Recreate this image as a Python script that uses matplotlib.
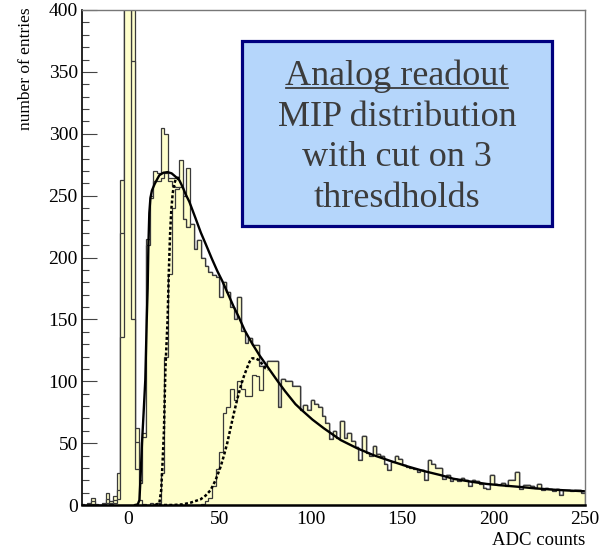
import numpy as np
import matplotlib.pyplot as plt
from matplotlib.patches import Rectangle
from matplotlib.lines import Line2D

plt.rcParams['font.family'] = ['Liberation Serif', 'DejaVu Serif']

# binning: 2 ADC counts per bin
bin_lo, bin_hi, bin_w = -26, 250, 2

# tail 80..250, same in all histograms
tail = [116, 79, 102, 100, 100, 96, 96, 77, 81, 77,
        85, 82, 79, 72, 66, 53, 60, 54, 68, 54,
        58, 52, 47, 36, 56, 42, 40, 48, 41, 40,
        33, 28, 35, 40, 37, 32, 31, 30, 29, 27,
        28, 20, 36, 33, 30, 30, 21, 24, 19, 21,
        19, 22, 20, 15, 20, 19, 17, 14, 13, 24,
        17, 16, 18, 15, 20, 20, 27, 13, 16, 16,
        15, 14, 17, 12, 14, 13, 11, 13, 8, 12,
        12, 11, 12, 12, 10]

# common part 34..80 of the no-cut / cut1 / cut2 histograms
mid = [227, 207, 214, 200, 193, 188, 186, 184, 168, 180, 172, 160,
       150, 168, 141, 131, 135, 129, 129, 112, 112, 116, 116]

# -26..34
all_head = [1, 0, 2, 6, 1, 0, 2, 10, 3, 7, 26,
            263, 2500, 2200, 900,
            62, 20, 58, 215, 250, 270,
            268, 305, 300, 264, 264, 264, 279, 250, 272]
cut1_head = [0, 0, 1, 3, 0, 0, 1, 5, 2, 4, 12,
             220, 1500, 1200, 359,
             51, 18, 55, 210, 248, 262,
             262, 264, 268, 262, 258, 257, 257, 231, 225]
cut2_head = [0, 0, 0, 1, 0, 0, 0, 2, 1, 2, 5,
             136, 800, 600, 150,
             29, 4, 1, 0, 2, 1,
             2, 26, 120, 187, 240, 255, 257, 231, 225]
# -26..80
cut3_head = [0] * 30 + [0, 0, 0, 1, 3, 6, 15, 29, 43, 74, 79, 94,
                        85, 100, 94, 88, 88, 105, 104, 93, 112, 116, 116]

# fit curves
fit_x = [4, 5.5, 6.4, 7.1, 7.8, 8.7, 9.6, 10.4, 10.9, 11.3, 11.8, 12.4, 13.2,
         14.6, 16, 17.3, 19.5, 21.8, 24, 26, 28.2, 30, 31.7, 33.7, 37, 40,
         42.6, 46, 49, 51.7, 55, 58, 60.7, 64, 68, 72, 77, 82, 86, 91.7, 95.3,
         101, 107.2, 116.4, 125.5, 134.5, 143.6, 152.7, 161.7, 170.9, 178.1,
         187, 196.3, 205, 214.5, 223, 232.7, 241, 250]
fit_y = [0, 0.5, 4, 25, 50, 75, 101, 150, 175, 210, 236, 248, 254,
         259, 263, 266.5, 268.5, 269, 268, 265.5, 262.5, 257, 251, 245, 232, 220,
         211, 199, 189, 181, 170, 160, 152, 141, 130.5, 121, 110.5, 100, 92, 81.5, 76.5,
         69, 62, 52.5, 45.8, 40.2, 35.6, 31.3, 27.5, 24.2, 21.2,
         19, 17, 15.8, 14.6, 13.4, 12.4, 11.7, 11.1]
dot1_x = [15, 17.3, 18.3, 19.1, 19.8, 20.6, 21.8, 22.4, 23.1, 23.8, 24.6, 25.5,
          26.5, 27.5, 28.5]
dot1_y = [0, 1.6, 12, 36, 60, 110, 150, 185, 217, 238, 252, 260,
          264, 264.5, 262]
dot2_x = [17, 25, 30, 34.4, 39.8, 42.5, 45.3, 48, 50.8, 52.6, 54.4, 56.2, 58,
          59.8, 61.7, 63.5, 65.3, 66.7, 68, 70, 71.7, 73.5, 75.3, 77]
dot2_y = [0, 0, 0.5, 1.9, 4.6, 7.5, 12, 20, 31, 40, 50, 62, 74,
          85, 95.6, 104, 111, 116, 118.5, 118.5, 117, 114, 110.5, 109.5]

box_lines = ["Analog readout", "MIP distribution", "with cut on 3", "thresdholds"]

edges = np.arange(bin_lo, bin_hi + bin_w, bin_w)
hists = [all_head + mid + tail,
         cut1_head + mid + tail,
         cut2_head + mid + tail,
         cut3_head + tail]

fig = plt.figure(figsize=(6.09, 5.49), dpi=100)
ax = fig.add_axes([82 / 609, 1 - 505 / 549, 503 / 609, 495 / 549])

fill_col = '#ffffcc'
for h in hists:
    ax.stairs(h, edges, fill=True, color=fill_col, zorder=2)
    ax.stairs(h, edges, color='#3a3a3a', lw=0.9, zorder=2)

ax.plot(fit_x, fit_y, color='black', lw=1.7, zorder=4)
ax.plot(dot1_x, dot1_y, color='black', lw=1.8, ls=(0, (1.2, 0.9)), zorder=4)
ax.plot(dot2_x, dot2_y, color='black', lw=1.8, ls=(0, (1.2, 0.9)), zorder=4)

ax.set_xlim(-25, 250)
ax.set_ylim(0, 400)
ax.set_xticks(np.arange(0, 251, 50))
ax.set_yticks(np.arange(0, 401, 50))
ax.set_yticks(np.arange(0, 401, 10), minor=True)
ax.tick_params(axis='y', which='major', direction='in', length=10.8, width=0.8,
               color='#444444', labelsize=14, pad=3)
ax.tick_params(axis='y', which='minor', direction='in', length=5.2, width=0.8,
               color='#444444')
ax.tick_params(axis='x', length=0, labelsize=14, pad=4)

ax.spines['left'].set_linewidth(1.2)
ax.spines['bottom'].set_linewidth(1.8)
for s in ['top', 'right']:
    ax.spines[s].set_color('#777777')
    ax.spines[s].set_linewidth(1.0)
for s in ax.spines.values():
    s.set_zorder(5)

ax.set_ylabel('number of entries', fontsize=12.5, loc='top')
ax.yaxis.set_label_coords(-0.095, 1.005)
ax.set_xlabel('ADC counts', fontsize=13.5, loc='right')
ax.xaxis.set_label_coords(1.0, -0.054)

# text box
fig.patches.append(Rectangle((241.5 / 609, 1 - 226 / 549), 310 / 609, 184.5 / 549,
                             transform=fig.transFigure, facecolor='#b5d6fb',
                             edgecolor='#00007f', lw=2.3, zorder=6))
baselines = [85, 126.5, 166.5, 207.5]
txts = []
for line, yb in zip(box_lines, baselines):
    t = fig.text(397 / 609, 1 - yb / 549, line, ha='center', va='baseline',
                 fontsize=26, color='#3c3c3c', zorder=7)
    txts.append(t)

fig.canvas.draw()
bb = txts[0].get_window_extent(fig.canvas.get_renderer())
uy = (549 - 87.8) / 549
fig.lines.append(Line2D([bb.x0 / 609 + 0.002, bb.x1 / 609 - 0.002], [uy, uy],
                        transform=fig.transFigure, color='#3c3c3c', lw=1.3, zorder=7))

fig.savefig('out.png', dpi=100)
